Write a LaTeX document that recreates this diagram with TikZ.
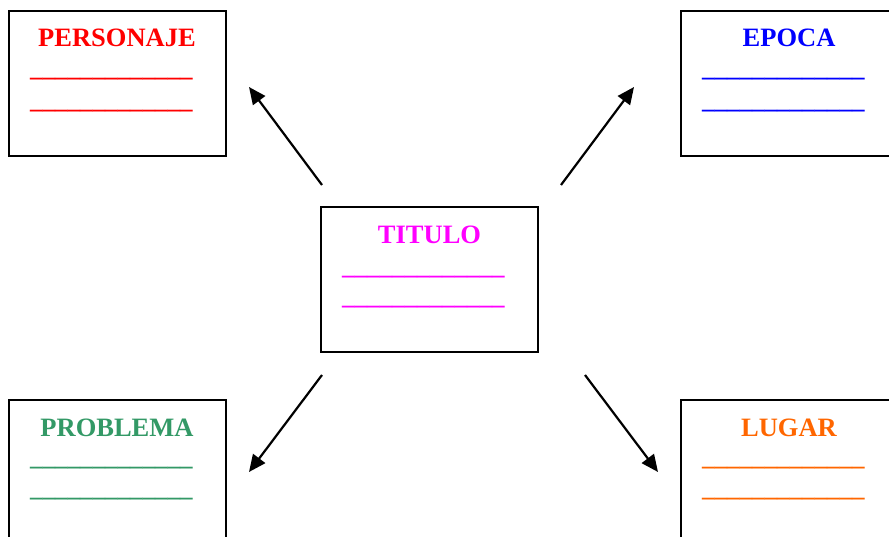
\documentclass[tikz,border=0pt]{standalone}
\usepackage{fontspec}
\setmainfont{Liberation Serif}
\usetikzlibrary{arrows.meta}
\definecolor{cred}{HTML}{FF0000}
\definecolor{cblue}{HTML}{0000FF}
\definecolor{cmag}{HTML}{FF00FF}
\definecolor{cgreen}{HTML}{339966}
\definecolor{corange}{HTML}{FF6600}
\tikzset{
  card/.style={draw=black, line width=1.5pt, minimum width=217pt, minimum height=145pt, inner sep=0pt},
  cardtitle/.style={anchor=base, inner sep=0pt, font=\fontsize{26.5}{30}\selectfont\bfseries},
  blank/.style={anchor=base west, inner sep=0pt, font=\fontsize{25}{30}\selectfont\bfseries},
  conn/.style={line width=2.2pt, -{Triangle[length=17pt,width=15pt]}}
}
\newcommand{\blankline}{\_\_\_\_\_\_\_\_\_\_\_\_\_}
\begin{document}
\begin{tikzpicture}[x=1pt,y=-1pt]
\useasboundingbox (0,0) rectangle (889,537);
\clip (0,0) rectangle (889,537);
% boxes
\node[card] (personaje) at (117.5,83.5) {};
\node[card] (epoca) at (789.5,83.5) {};
\node[card] (titulo) at (429.5,279.5) {};
\node[card] (problema) at (117.5,472.5) {};
\node[card] (lugar) at (789.5,472.5) {};
% titles
\node[cardtitle, text=cred] (tp) at (117,47) {PERSONAJE};
\node[cardtitle, text=cblue] (te) at (789,47) {EPOCA};
\node[cardtitle, text=cmag] (tt) at (429.5,244) {TITULO};
\node[cardtitle, text=cgreen] (tpr) at (117,436) {PROBLEMA};
\node[cardtitle, text=corange] (tl) at (789,436) {LUGAR};
% blank lines
\node[blank, text=cred] (p1) at (30,76.5) {\blankline};
\node[blank, text=cred] (p2) at (30,108.5) {\blankline};
\node[blank, text=cblue] (e1) at (702,76.5) {\blankline};
\node[blank, text=cblue] (e2) at (702,108.5) {\blankline};
\node[blank, text=cmag] (t1) at (342,274.5) {\blankline};
\node[blank, text=cmag] (t2) at (342,305) {\blankline};
\node[blank, text=cgreen] (r1) at (30,465.5) {\blankline};
\node[blank, text=cgreen] (r2) at (30,496.5) {\blankline};
\node[blank, text=corange] (l1) at (702,465.5) {\blankline};
\node[blank, text=corange] (l2) at (702,496.5) {\blankline};
% connector endpoints
\coordinate (a1s) at (322,185);
\coordinate (a1e) at (249,87);
\coordinate (a2s) at (561,185);
\coordinate (a2e) at (634,87);
\coordinate (a3s) at (322,375);
\coordinate (a3e) at (249,472);
\coordinate (a4s) at (585,375);
\coordinate (a4e) at (658,472);
\draw[conn] (a1s) -- (a1e);
\draw[conn] (a2s) -- (a2e);
\draw[conn] (a3s) -- (a3e);
\draw[conn] (a4s) -- (a4e);
\end{tikzpicture}
\end{document}
